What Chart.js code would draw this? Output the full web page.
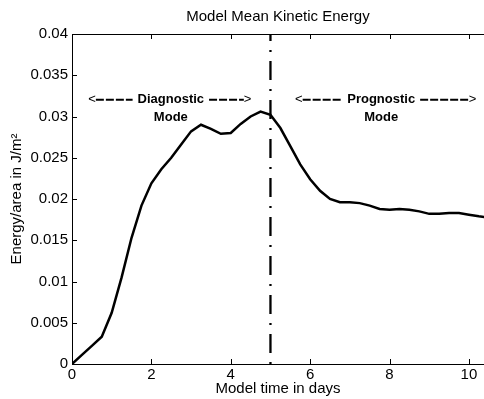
<!DOCTYPE html>
<html>
<head>
<meta charset="utf-8">
<script src="https://cdn.jsdelivr.net/npm/chart.js@4/dist/chart.umd.min.js"></script>
<style>
  html, body { margin: 0; padding: 0; background: #fff; }
  #c { display: block; }
</style>
</head>
<body>
<canvas id="c" width="484" height="399"></canvas>
<script>
// ---- data ----
const days = [0, 0.25, 0.5, 0.75, 1.0, 1.25, 1.5, 1.75, 2.0, 2.25, 2.5, 2.75, 3.0, 3.25, 3.5, 3.75,
  4.0, 4.25, 4.5, 4.75, 5.0, 5.25, 5.5, 5.75, 6.0, 6.25, 6.5, 6.75, 7.0, 7.25, 7.5, 7.75,
  8.0, 8.25, 8.5, 8.75, 9.0, 9.25, 9.5, 9.75, 10.0, 10.25, 10.4];
const energy = [0, 0.0011, 0.0022, 0.0033, 0.0062, 0.0105, 0.0153, 0.0192, 0.0219, 0.0236, 0.0250, 0.0266,
  0.0282, 0.0290, 0.0285, 0.0279, 0.0280, 0.0291, 0.0300, 0.0306, 0.0302, 0.0286, 0.0264, 0.0242,
  0.0224, 0.0210, 0.0200, 0.0196, 0.0196, 0.0195, 0.0192, 0.0188, 0.0187, 0.0188, 0.0187, 0.0185,
  0.0182, 0.0182, 0.0183, 0.0183, 0.0181, 0.0179, 0.0178];
const modeSwitchDay = 5;
const xTicks = [0, 2, 4, 6, 8, 10];
const xTickLabels = ['0', '2', '4', '6', '8', '10'];
const yTicks = [0, 0.005, 0.01, 0.015, 0.02, 0.025, 0.03, 0.035, 0.04];
const yTickLabels = ['0', '0.005', '0.01', '0.015', '0.02', '0.025', '0.03', '0.035', '0.04'];
const modeNames = ['Diagnostic', 'Prognostic'];
const modeSubLabel = 'Mode';

// ---- annotation placement (in data units) ----
const annCenter = [2.49, 7.79];
const annStart = [0.41, 5.62];
const annEnd = [4.52, 10.19];
const annLabelY = 0.0321;
const annModeY = 0.0299;

const FONT = '"Liberation Sans", Arial, Helvetica, sans-serif';

const tickPlugin = {
  id: 'insideTicks',
  afterDatasetsDraw(chart) {
    const {ctx, chartArea: a, scales: {x, y}} = chart;
    ctx.save();
    ctx.strokeStyle = '#000';
    ctx.lineWidth = 1;
    ctx.setLineDash([]);
    ctx.beginPath();
    // top border
    ctx.moveTo(a.left, Math.round(a.top) + 0.5);
    ctx.lineTo(a.right, Math.round(a.top) + 0.5);
    xTicks.forEach(v => {
      const px = Math.round(x.getPixelForValue(v)) + 0.5;
      ctx.moveTo(px, a.bottom); ctx.lineTo(px, a.bottom - 5);
      ctx.moveTo(px, a.top); ctx.lineTo(px, a.top + 5);
    });
    yTicks.forEach(v => {
      const py = Math.round(y.getPixelForValue(v)) + 0.5;
      ctx.moveTo(a.left, py); ctx.lineTo(a.left + 5, py);
    });
    ctx.stroke();

    // mode annotations
    ctx.fillStyle = '#000';
    ctx.textBaseline = 'middle';
    const yl = y.getPixelForValue(annLabelY);
    const ym = y.getPixelForValue(annModeY);
    modeNames.forEach((name, i) => {
      const xc = x.getPixelForValue(annCenter[i]);
      const xs = x.getPixelForValue(annStart[i]);
      const xe = x.getPixelForValue(annEnd[i]);
      ctx.font = 'bold 13px ' + FONT;
      const w = ctx.measureText(name).width;
      ctx.textAlign = 'center';
      ctx.fillText(name, xc, yl);
      ctx.fillText(modeSubLabel, xc, ym);
      ctx.font = '13px ' + FONT;
      ctx.textAlign = 'left';
      ctx.fillText('<', xs, yl);
      const wl = ctx.measureText('<').width;
      ctx.textAlign = 'right';
      ctx.fillText('>', xe, yl);
      const wr = ctx.measureText('>').width;
      ctx.lineWidth = 2;
      ctx.setLineDash([8, 2]);
      ctx.beginPath();
      ctx.moveTo(xs + wl, yl + 0.5); ctx.lineTo(xc - w / 2 - 5, yl + 0.5);
      ctx.moveTo(xc + w / 2 + 5, yl + 0.5); ctx.lineTo(xe - wr, yl + 0.5);
      ctx.stroke();
      ctx.setLineDash([]);
    });
    ctx.restore();
  }
};

new Chart(document.getElementById('c'), {
  type: 'line',
  data: {
    datasets: [
      {
        data: days.map((d, i) => ({x: d, y: energy[i]})),
        borderColor: '#000',
        borderWidth: 2.5,
        pointRadius: 0,
        tension: 0,
        fill: false
      },
      {
        data: [{x: modeSwitchDay, y: yTicks[0]}, {x: modeSwitchDay, y: yTicks[yTicks.length - 1]}],
        borderColor: '#000',
        borderWidth: 2.3,
        borderDash: [2, 9, 19, 9],
        borderCapStyle: 'butt',
        pointRadius: 0,
        fill: false
      }
    ]
  },
  options: {
    responsive: false,
    animation: false,
    devicePixelRatio: 1,
    layout: {padding: {left: 0, right: 0, top: 0, bottom: 0}},
    plugins: {
      legend: {display: false},
      tooltip: {enabled: false},
      title: {
        display: true,
        text: 'Model Mean Kinetic Energy',
        fullSize: false,
        color: '#000',
        font: {family: FONT, size: 15, weight: 'normal', lineHeight: 1.2},
        padding: {top: 8, bottom: 8}
      }
    },
    scales: {
      x: {
        type: 'linear',
        min: 0,
        max: 10.38,
        afterBuildTicks: s => { s.ticks = xTicks.map(v => ({value: v})); },
        afterFit: s => { s.height = 35; },
        ticks: {
          color: '#000',
          font: {family: FONT, size: 15},
          padding: 2,
          maxRotation: 0,
          callback: (v) => xTickLabels[xTicks.indexOf(v)]
        },
        grid: {display: true, drawOnChartArea: false, drawTicks: false},
        border: {display: true, color: '#000', width: 1},
        title: {
          display: true,
          text: 'Model time in days',
          color: '#000',
          font: {family: FONT, size: 15, lineHeight: 1.2},
          padding: {top: 1, bottom: 1}
        }
      },
      y: {
        type: 'linear',
        min: 0,
        max: 0.04,
        afterBuildTicks: s => { s.ticks = yTicks.map(v => ({value: v})); },
        afterFit: s => { s.width = 72; },
        ticks: {
          color: '#000',
          font: {family: FONT, size: 15},
          padding: 4,
          callback: (v) => yTickLabels[yTicks.indexOf(v)]
        },
        grid: {display: true, drawOnChartArea: false, drawTicks: false},
        border: {display: true, color: '#000', width: 1},
        title: {
          display: true,
          text: 'Energy/area in J/m²',
          color: '#000',
          font: {family: FONT, size: 15, lineHeight: 1.2},
          padding: {top: 8, bottom: 0}
        }
      }
    }
  },
  plugins: [tickPlugin]
});
</script>
</body>
</html>
